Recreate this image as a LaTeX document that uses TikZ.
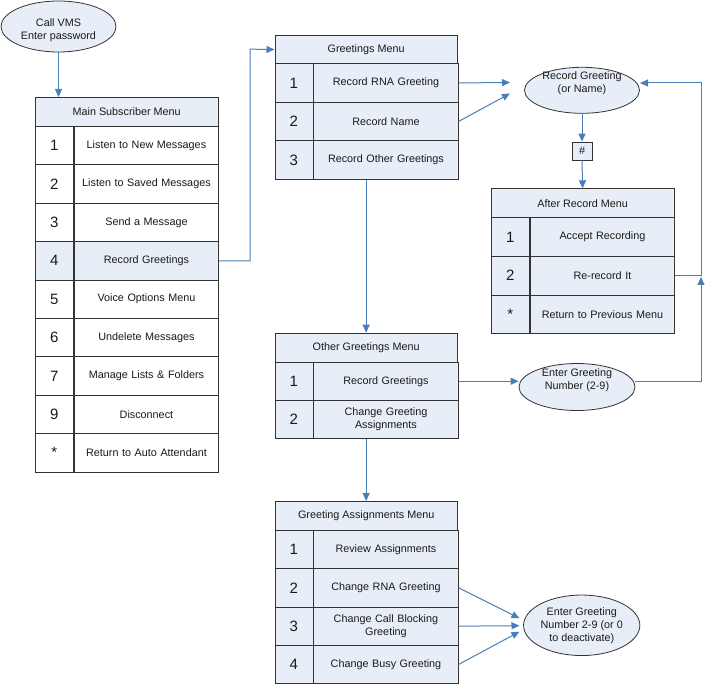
\documentclass[tikz,border=0pt]{standalone}
\usepackage{fontspec}
\setmainfont{Liberation Sans}
\usetikzlibrary{arrows.meta,shapes.geometric}
\definecolor{lb}{HTML}{E8EEF7}
\definecolor{ab}{HTML}{4A7EBB}
\definecolor{bd}{HTML}{333333}
\definecolor{txt}{HTML}{1A1A1A}
\newcommand\MenuRow[7]{%
  \node[numcell,fill=#5,minimum height=#4pt,anchor=north west] (#1n) at (#2,#3) {#6};
  \node[txtcell,fill=#5,minimum height=#4pt,anchor=north west] (#1t) at (#1n.north east) {#7};
}
\tikzset{
  cellbase/.style={draw=bd, line width=0.8pt, inner sep=0pt, text=txt, font=\fontsize{10.8}{13}\selectfont},
  numcell/.style={cellbase, minimum width=38pt, font=\fontsize{15}{17}\selectfont},
  txtcell/.style={cellbase, minimum width=144.5pt, text width=140pt, align=center},
  hdrcell/.style={cellbase, fill=lb, minimum width=182.5pt, align=center},
  oval/.style={ellipse, draw=bd, line width=0.8pt, fill=lb, inner sep=0pt},
  ovaltext/.style={align=center, text=txt, inner sep=0pt, font=\fontsize{10.8}{13}\selectfont},
  conn/.style={draw=ab, line width=1pt, -{Triangle[length=8pt,width=7pt]}},
}
\begin{document}
\begin{tikzpicture}[x=1pt,y=-1pt]
\useasboundingbox (0,0) rectangle (706,684);

% Call VMS
\node[oval, minimum width=115pt, minimum height=51pt] (call) at (58.5,26.5) {};
\node[ovaltext] (calltext) at (58.5,30) {Call VMS\\Enter password};

% Main Subscriber Menu
\node[hdrcell, minimum height=29pt, anchor=north west] (mh) at (35,97) {Main Subscriber Menu};
\MenuRow{m1}{35}{126}{38.4}{white}{1}{Listen to New Messages}
\MenuRow{m2}{35}{164.4}{38.4}{white}{2}{Listen to Saved Messages}
\MenuRow{m3}{35}{202.8}{38.4}{white}{3}{Send a Message}
\MenuRow{m4}{35}{241.2}{38.4}{lb}{4}{Record Greetings}
\MenuRow{m5}{35}{279.6}{38.4}{white}{5}{Voice Options Menu}
\MenuRow{m6}{35}{318}{38.4}{white}{6}{Undelete Messages}
\MenuRow{m7}{35}{356.4}{38.4}{white}{7}{Manage Lists \& Folders}
\MenuRow{m8}{35}{394.8}{38.4}{white}{9}{Disconnect}
\MenuRow{m9}{35}{433.2}{38.4}{white}{*}{Return to Auto Attendant}

% Greetings Menu
\node[hdrcell, minimum height=28.3pt, anchor=north west] (gh) at (274.5,35) {Greetings Menu};
\MenuRow{g1}{274.5}{63.3}{38.5}{lb}{1}{Record RNA Greeting}
\MenuRow{g2}{274.5}{101.8}{38.5}{lb}{2}{Record Name}
\MenuRow{g3}{274.5}{140.3}{38.5}{lb}{3}{Record Other Greetings}

% Record Greeting
\node[oval, minimum width=115pt, minimum height=46pt] (rec) at (582,90.3) {};
\node[ovaltext] (rectext) at (582,83) {Record Greeting\\(or Name)};
\node[cellbase, fill=lb, minimum width=20pt, minimum height=18pt] (hash) at (582,151) {\#};

% After Record Menu
\node[hdrcell, minimum height=29pt, anchor=north west] (arh) at (491,188.3) {After Record Menu};
\MenuRow{ar1}{491}{217.3}{38.7}{lb}{1}{Accept Recording}
\MenuRow{ar2}{491}{256}{38.7}{lb}{2}{Re-record It}
\MenuRow{ar3}{491}{294.7}{38.7}{lb}{*}{Return to Previous Menu}

% Other Greetings Menu
\node[hdrcell, minimum height=29pt, anchor=north west] (oh) at (274.5,332.7) {Other Greetings Menu};
\MenuRow{o1}{274.5}{361.7}{38.3}{lb}{1}{Record Greetings}
\MenuRow{o2}{274.5}{400}{38.3}{lb}{2}{Change Greeting\\Assignments}

% Enter Greeting Number (2-9)
\node[oval, minimum width=116pt, minimum height=47pt] (eg1) at (577,387) {};
\node[ovaltext] (eg1text) at (577,380) {Enter Greeting\\Number (2-9)};

% Greeting Assignments Menu
\node[hdrcell, minimum height=29pt, anchor=north west] (gah) at (274.5,501) {Greeting Assignments Menu};
\MenuRow{a1}{274.5}{530}{38.3}{lb}{1}{Review Assignments}
\MenuRow{a2}{274.5}{568.3}{38.3}{lb}{2}{Change RNA Greeting}
\MenuRow{a3}{274.5}{606.6}{38.3}{lb}{3}{Change Call Blocking\\Greeting}
\MenuRow{a4}{274.5}{644.9}{38.3}{lb}{4}{Change Busy Greeting}

% Enter Greeting Number 2-9 (or 0 to deactivate)
\node[oval, minimum width=115.5pt, minimum height=60.5pt, ovaltext, draw=bd, line width=0.8pt] (eg2) at (581.7,625.3) {Enter Greeting\\Number 2-9 (or 0\\to deactivate)};

% connectors
\draw[conn] (call.south) -- (call.south |- mh.north);
\coordinate (k1) at (250,49.15);
\draw[conn] (m4t.east) -| (k1) -- (gh.west);
\coordinate (t1) at (510,82.5);
\coordinate (t2) at (510,93.5);
\draw[conn] (g1t.east) -- (t1);
\draw[conn] (g2t.east) -- (t2);
\draw[conn] (rec.south) -- (hash.north);
\draw[conn] (hash.south) -- (arh.north);
\coordinate (k2) at (701,83);
\coordinate (t3) at (640,83);
\draw[conn] (ar2t.east) -| (k2) -- (t3);
\draw[conn] (gh.south |- g3t.south) -- (oh.north);
\draw[conn] (o1t.east) -- (o1t.east -| eg1.west);
\coordinate (t4) at (701,277);
\draw[conn] (eg1.east |- o1t.east) -| (t4);
\draw[conn] (oh.south |- o2t.south) -- (gah.north);
\coordinate (t5) at (519.5,618.3);
\coordinate (t6) at (519.5,625.7);
\coordinate (t7) at (519.5,631.7);
\draw[conn] (a2t.east) -- (t5);
\draw[conn] (a3t.east) -- (t6);
\draw[conn] (a4t.east) -- (t7);
\end{tikzpicture}
\end{document}
